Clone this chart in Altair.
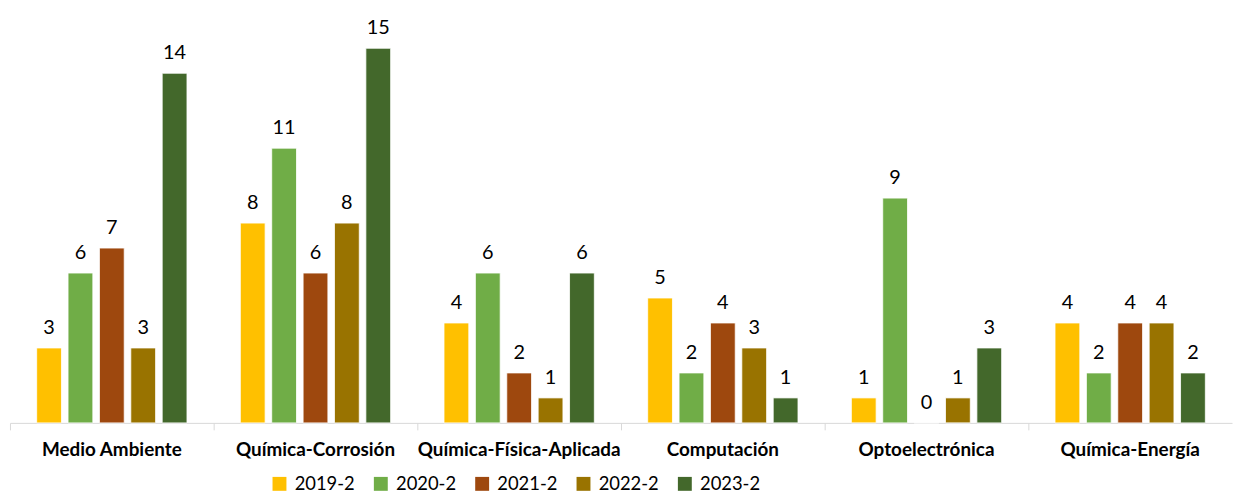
import altair as alt
import pandas as pd

categories = ["Medio Ambiente", "Química-Corrosión", "Química-Física-Aplicada",
              "Computación", "Optoelectrónica", "Química-Energía"]
series = ["2019-2", "2020-2", "2021-2", "2022-2", "2023-2"]
values = {
    "2019-2": [3, 8, 4, 5, 1, 4],
    "2020-2": [6, 11, 6, 2, 9, 2],
    "2021-2": [7, 6, 2, 4, 0, 4],
    "2022-2": [3, 8, 1, 3, 1, 4],
    "2023-2": [14, 15, 6, 1, 3, 2],
}
colors = ["#FFC000", "#70AD47", "#9E480E", "#997300", "#43682B"]

rows = []
for s in series:
    for c, v in zip(categories, values[s]):
        rows.append({"cat": c, "year": s, "value": v})
df = pd.DataFrame(rows)

font = "Lato"

x = alt.X("cat:N", sort=categories, title=None,
          scale=alt.Scale(paddingInner=0, paddingOuter=0),
          axis=alt.Axis(labelAngle=0, labelFontWeight="bold", labelFontSize=19,
                        labelFont=font, labelColor="#000000", labelPadding=11,
                        labelLimit=0,
                        domainColor="#D9D9D9", tickColor="#D9D9D9", tickSize=7,
                        bandPosition=0, grid=False))
xo = alt.XOffset("year:N", sort=series,
                 scale=alt.Scale(paddingInner=0.21, paddingOuter=0.85))
y = alt.Y("value:Q", scale=alt.Scale(domain=[0, 16.39], nice=False, zero=True), axis=None)

bars = alt.Chart(df).mark_bar(stroke="white", strokeWidth=0.8).encode(
    x=x, xOffset=xo, y=y,
    color=alt.Color("year:N", sort=series,
                    scale=alt.Scale(domain=series, range=colors),
                    legend=alt.Legend(title=None, orient="none", direction="horizontal",
                                      legendX=262, legendY=464,
                                      symbolType="square", symbolSize=196,
                                      symbolStrokeWidth=0,
                                      labelFont=font, labelFontSize=18.5,
                                      labelColor="#000000", columnPadding=16,
                                      labelOffset=6))
)

labels = alt.Chart(df).mark_text(dy=-20, fontSize=20, font=font, color="#000000").encode(
    x=x, xOffset=xo, y=y, text="value:Q"
)

chart = (bars + labels).properties(
    width=1230, height=412,
    autosize=alt.AutoSizeParams(type="none"),
    padding={"left": 2, "top": 4, "right": 2, "bottom": 70},
).configure(background="white").configure_view(stroke=None, strokeWidth=0)

chart.save("out.html", embed_options={"renderer": "svg", "actions": False})
